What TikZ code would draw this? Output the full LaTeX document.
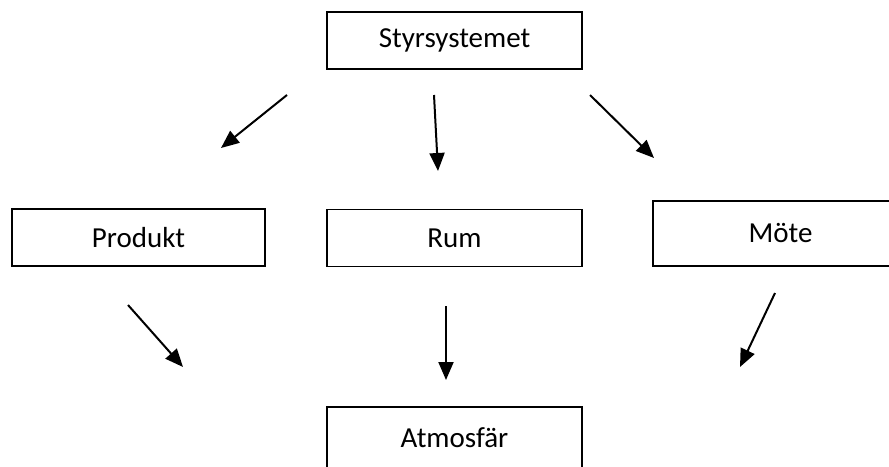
\documentclass[tikz,border=0pt]{standalone}
\usepackage{fontspec}
\setmainfont{Carlito}
\usetikzlibrary{arrows.meta}
\tikzset{-{Triangle[length=18pt,width=15pt]},
    box/.style={rectangle,draw,line width=1.8pt,minimum width=255pt,
        minimum height=57pt,inner sep=0pt,
        font=\fontsize{29}{34}\selectfont},
    point/.style={}}

\begin{document}
\begin{tikzpicture}
[x=1pt,y=-1pt,line width=2pt]
\useasboundingbox (0,0) rectangle (889,466);
\node[box] (sys)  at (454.5,40.5)  {Styrsystemet};
\node[box, minimum width=253pt] (prod) at (138.5,237.5) {Produkt};
\node[box] (rum)  at (454.5,238)   {Rum};
\node[box, minimum height=65pt] (mote) at (780.5,233.5) {Möte};
\node[box, minimum height=62pt] (atm)  at (454.5,438)   {Atmosfär};

\coordinate (p1) at (287,95);
\coordinate (q1) at (221,148);
\coordinate (p2) at (434,95);
\coordinate (q2) at (438,171);
\coordinate (p3) at (590,95);
\coordinate (q3) at (654,158);
\coordinate (p4) at (128,305);
\coordinate (q4) at (183,367);
\coordinate (p5) at (446,306);
\coordinate (q5) at (446,380);
\coordinate (p6) at (775,293);
\coordinate (q6) at (740,367);

\path[]
	(p1)	edge 	[] 	(q1)
    (p2)	edge 	[] 	(q2)
    (p3)	edge 	[] 	(q3)
    (p4)	edge 	[] 	(q4)
    (p5)	edge 	[] 	(q5)
    (p6)	edge 	[] 	(q6);
\end{tikzpicture}
\end{document}
